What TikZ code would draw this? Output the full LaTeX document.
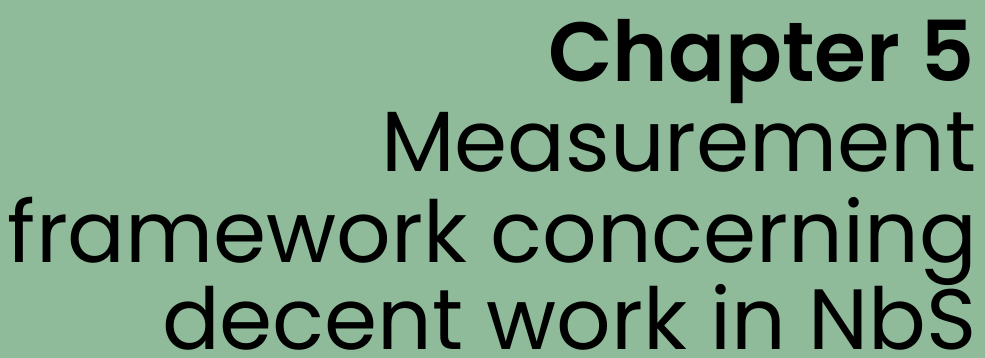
\documentclass[tikz,border=0pt]{standalone}
\usepackage{fontspec}
\setmainfont{Poppins}
\newfontfamily\semib{Poppins SemiBold}
\usetikzlibrary{positioning}
\definecolor{sage}{HTML}{8FBB9A}

\begin{document}
\begin{tikzpicture}[x=1pt,y=1pt]
    \fill[sage] (0,0) rectangle (985,358);
    \useasboundingbox (0,0) rectangle (985,358);

    \tikzset{title/.style={anchor=base east, inner sep=0pt, font=\fontsize{85.5}{90}\selectfont}}

    \node[title, font=\fontsize{84}{90}\selectfont] (ch) at (975,276) {\semib Chapter 5};
    \node[title] (l1) at (977,186) {Measurement};
    \node[title] (l2) at (977,95)  {framework concerning};
    \node[title] (l3) at (977,8)   {decent work in NbS};
  \end{tikzpicture}
\end{document}
